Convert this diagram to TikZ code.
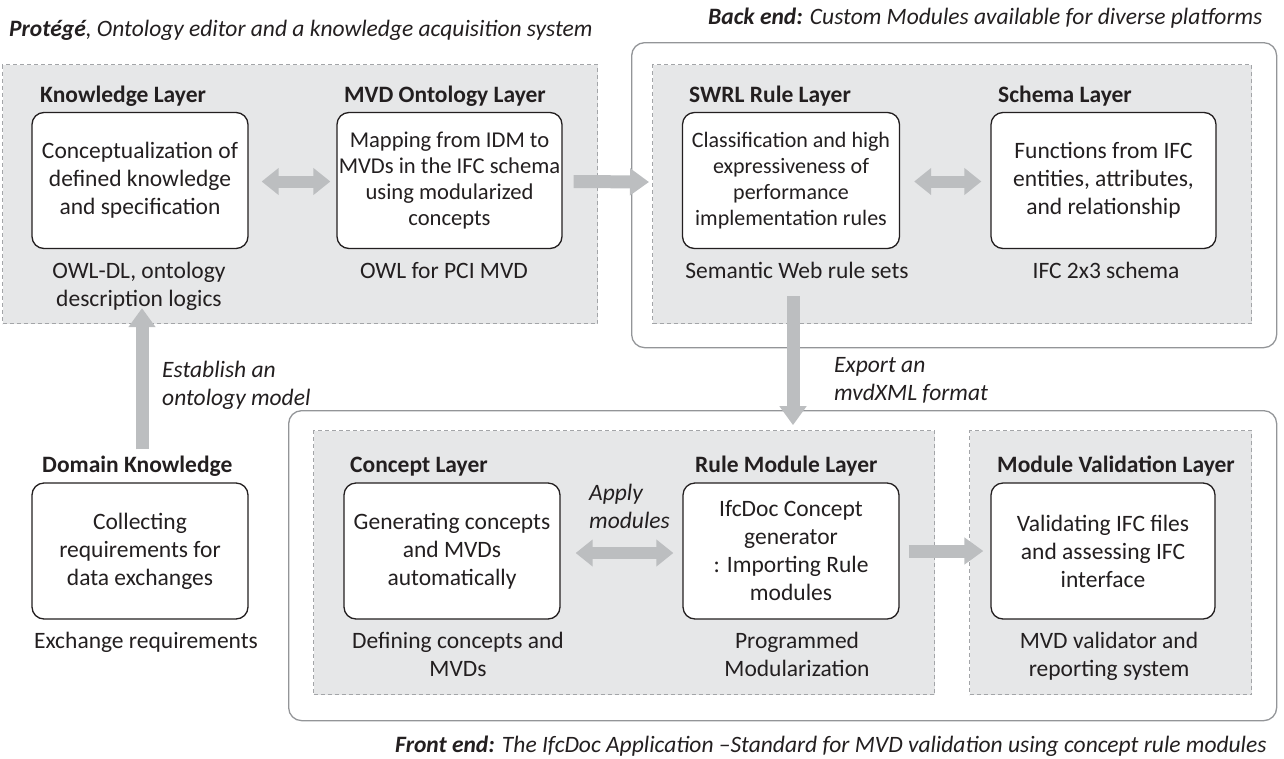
\documentclass[tikz,border=0pt]{standalone}
\usepackage{fontspec}
\setmainfont{Carlito}
\usetikzlibrary{arrows.meta,calc}
\definecolor{panelfill}{HTML}{E6E7E8}
\definecolor{panelline}{HTML}{A3A5A8}
\definecolor{frameline}{HTML}{939598}
\definecolor{flow}{HTML}{BCBEC0}
\definecolor{ink}{HTML}{231F20}
\begin{document}
\begin{tikzpicture}[x=1pt,y=-1pt,
  font=\fontsize{23.5}{28}\selectfont, text=ink,
  panel/.style={draw=panelline, fill=panelfill, dash pattern=on 4pt off 3pt,
    line width=1pt, inner sep=0pt, anchor=north west},
  frame/.style={draw=frameline, line width=1.3pt, rounded corners=13pt,
    inner sep=0pt, anchor=north west},
  card/.style={draw=ink, fill=white, line width=1.3pt, rounded corners=12pt,
    align=center, inner sep=0pt, minimum height=136pt},
  smalltext/.style={font=\fontsize{22}{26}\selectfont},
  head/.style={anchor=base west, inner sep=0pt,
    font=\fontsize{23.5}{28}\selectfont\bfseries},
  caption/.style={anchor=base, align=center, inner sep=0pt},
  note/.style={anchor=base west, align=left, inner sep=0pt,
    font=\fontsize{23.5}{28}\selectfont\itshape},
  flowarrow/.style={draw=flow, line width=13pt,
    -{Triangle[width=26pt,length=19pt]}},
  flowboth/.style={draw=flow, line width=12pt,
    {Triangle[width=26pt,length=17pt]}-{Triangle[width=26pt,length=17pt]}}]
\useasboundingbox (0,0) rectangle (1284,758);

% ---- outer frames and layer panels
\node[frame, minimum width=645pt, minimum height=305pt] (beframe) at (631,42) {};
\node[frame, minimum width=988pt, minimum height=310pt] (feframe) at (288,410) {};
\node[panel, minimum width=595pt, minimum height=259pt] (protege) at (2,64) {};
\node[panel, minimum width=599pt, minimum height=259pt] (backend) at (652,64) {};
\node[panel, minimum width=621pt, minimum height=264pt] (fepanel) at (313,430) {};
\node[panel, minimum width=282pt, minimum height=264pt] (valpanel) at (969,430) {};

% ---- group titles
\node[note] (ttl1) at (9,36) {\textbf{Protégé}, Ontology editor and a knowledge acquisition system};
\node[note] (ttl2) at (708,24) {\textbf{Back end:} Custom Modules available for diverse platforms};
\node[note] (ttl3) at (395,752) {\textbf{Front end:} The IfcDoc Application –Standard for MVD validation using concept rule modules};

% ---- layer headers
\node[head] (h1) at (40,102) {Knowledge Layer};
\node[head] (h2) at (344,102) {MVD Ontology Layer};
\node[head] (h3) at (689,102) {SWRL Rule Layer};
\node[head] (h4) at (998,102) {Schema Layer};
\node[head] (h5) at (42,472) {Domain Knowledge};
\node[head] (h6) at (350,472) {Concept Layer};
\node[head] (h7) at (695,472) {Rule Module Layer};
\node[head] (h8) at (997,472) {Module Validation Layer};

% ---- cards
\node[card, minimum width=216pt] (know) at (140,180.5) {Conceptualization of\\defined knowledge\\and specification};
\node[card, minimum width=225pt, font=\fontsize{22.6}{26}\selectfont] (mvd) at (449.5,180.5) {Mapping from IDM to\\MVDs in the IFC schema\\using  modularized\\concepts};
\node[card, minimum width=217pt, smalltext] (swrl) at (791,180.5) {Classification and high\\expressiveness of\\performance\\implementation rules};
\node[card, minimum width=225pt] (schema) at (1103.5,180.5) {Functions from IFC\\entities, attributes,\\and relationship};
\node[card, minimum width=216pt] (domain) at (140,551) {Collecting\\requirements for\\data exchanges};
\node[card, minimum width=216pt] (concept) at (452,551) {Generating concepts\\and MVDs\\automatically};
\node[card, minimum width=216pt] (rulemod) at (791,551) {IfcDoc Concept\\generator\\: Importing Rule\\modules};
\node[card, minimum width=224pt] (valid) at (1103,551) {Validating IFC files\\and assessing IFC\\interface};

% ---- captions under the cards (anchored on the last line's baseline)
\node[caption] (c1) at (139,306) {OWL-DL, ontology\\description logics};
\node[caption] (c2) at (444,278) {OWL for PCI MVD};
\node[caption] (c3) at (797,278) {Semantic Web rule sets};
\node[caption] (c4) at (1106,278) {IFC 2x3 schema};
\node[caption] (c5) at (146,648) {Exchange requirements};
\node[caption] (c6) at (458,676) {Defining concepts and\\MVDs};
\node[caption] (c7) at (797,676) {Programmed\\Modularization};
\node[caption] (c8) at (1109,676) {MVD validator and\\reporting system};

% ---- arrow labels
\node[note] (n1) at (162,405) {Establish an\\ontology model};
\node[note] (n2) at (834,400) {Export an\\mvdXML format};
\node[note] (n3) at (589,528) {Apply\\modules};

% ---- flows
\draw[flowboth] ($(know.east)+(13,1)$) -- ($(mvd.west)+(-6,1)$);
\draw[flowarrow] ($(mvd.east)+(11,1)$) -- ($(backend.west)+(-3,-12)$);
\draw[flowboth] ($(swrl.east)+(14,1)$) -- ($(schema.west)+(-9,1)$);
\draw[flowarrow] ($(domain.north)+(2,-33)$) -- ($(know.south)+(2,59)$);
\draw[flowarrow] ($(swrl.south)+(2,47)$) -- ($(swrl.south)+(2,176)$);
\draw[flowboth] ($(concept.east)+(15,2)$) -- ($(rulemod.west)+(-9,2)$);
\draw[flowarrow] ($(rulemod.east)+(9,0)$) -- ($(valid.west)+(-7,0)$);
\end{tikzpicture}
\end{document}
